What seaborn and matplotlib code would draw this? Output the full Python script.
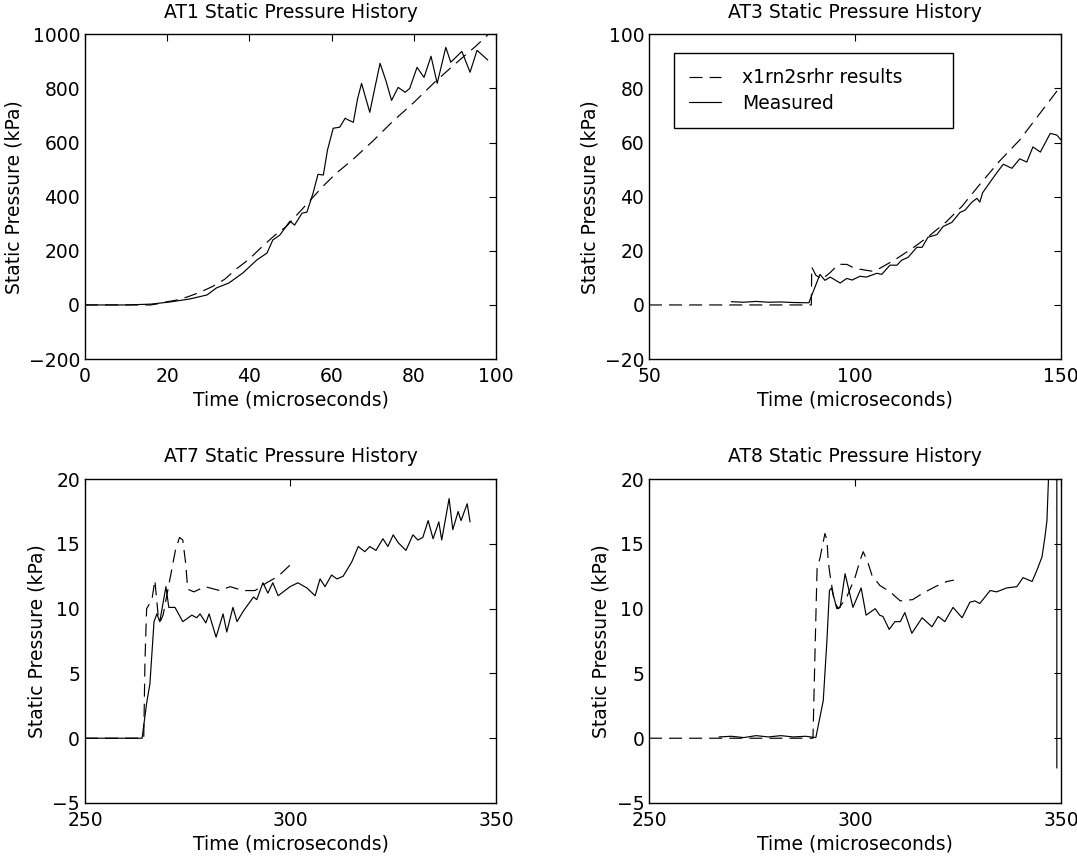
import matplotlib
matplotlib.use("Agg")
import matplotlib.pyplot as plt
import pandas as pd
import seaborn as sns

# AT1 - simulation (dashed) and measured (solid)
at1_sim_t = [0, 10, 16, 18, 20, 22, 25, 28, 31, 34, 37, 40, 43, 46, 49, 52, 55, 58, 61, 65, 70, 75, 80, 85, 90, 95, 98]
at1_sim_p = [0, 0, 0, 5, 12, 17, 30, 47, 68, 95, 135, 170, 214, 255, 290, 340, 390, 440, 485, 535, 605, 680, 748, 822, 890, 955, 998]
at1_meas_t = [0, 10, 16, 20.7, 25.5, 29.7, 32, 35, 38.4, 41.8, 44.3, 45.7, 47.4, 49.9, 51, 52.8, 54, 55.5, 56.7, 58,
              59, 60.4, 62, 63.3, 64.3, 65.3, 66.3, 67.3, 68.3, 69.3, 70.5, 71.8, 73.2, 74.6, 76.2, 77.9, 79, 80.8,
              82.5, 84.2, 85.7, 87.8, 89, 91.7, 93.7, 95.4, 97.3, 98]
at1_meas_p = [0, 0, 3, 11, 22, 37, 63, 81, 118, 166, 192, 240, 258, 310, 295, 339, 343, 413, 483, 480,
              572, 653, 657, 690, 682, 675, 760, 819, 765, 712, 800, 893, 830, 756, 804, 786, 800, 878,
              841, 919, 819, 952, 897, 937, 860, 941, 915, 905]

# AT3
at3_sim_t = [50, 70, 89.4, 89.5, 90.5, 92, 94, 96, 98, 100, 104, 106, 110, 114, 118, 122, 126, 130, 135, 140, 145, 150]
at3_sim_p = [0, 0, 0, 14, 11, 9.5, 12, 15, 15, 13.5, 12.5, 13.5, 17, 21, 25.5, 30.5, 36.5, 44, 53, 61, 71, 81]
at3_meas_t = [70, 73, 76, 79, 82, 85, 88.8, 91.5, 92.7, 94, 96.4, 98, 99.3, 101.2, 102.8, 105.3, 106.5, 108.5,
              110.2, 111.3, 112.9, 115, 116.3, 117.7, 119.9, 121.4, 123.5, 125.5, 126.7, 128.4, 129.6, 130.3,
              131, 132.8, 134.5, 136, 138.1, 140, 141.7, 143.2, 145, 147.4, 149, 150]
at3_meas_p = [1.2, 1.0, 1.3, 1.0, 1.1, 0.9, 0.8, 11.3, 9.1, 10.3, 8.1, 9.8, 9.2, 10.6, 10.3, 11.7, 11.3, 14.7,
              14.7, 16.5, 17.6, 21.3, 21.3, 25, 26, 29, 30.5, 34.2, 35, 38, 39.4, 38,
              41.5, 45.4, 49, 52, 50.5, 54, 52.8, 58.4, 56.5, 63.4, 62.8, 61]

# AT7
at7_sim_t = [250, 260, 264.3, 264.6, 265, 266.3, 267, 267.8, 268.3, 269, 270.5, 272, 273, 273.8, 274.5, 275,
             276.5, 279.2, 282.8, 285.3, 288.5, 291.4, 294.2, 297, 300]
at7_sim_p = [0, 0, 0, 6, 10, 10.7, 12.2, 9.5, 9.0, 9.5, 12, 14.5, 15.5, 15.3, 13.5, 11.5,
             11.3, 11.7, 11.4, 11.7, 11.4, 11.4, 12, 12.5, 13.4]
at7_meas_t = [250, 258, 263.9, 265, 265.8, 266.8, 267.5, 268.2, 269.7, 270.4, 271.9, 273.8, 276, 277.2, 278,
              279.4, 280.2, 281.9, 283.6, 284.5, 286, 287, 288.5, 291, 291.8, 293.3, 294.5, 295.7, 297,
              299.9, 301.8, 304, 306, 307.2, 308.4, 310, 311.3, 312.8, 314.9, 316.5, 318.1, 319.3, 320.8,
              322.5, 323.7, 325, 326.2, 328.1, 329.8, 331, 332.2, 333.5, 334.7, 336.1, 336.8, 338.6, 339.5,
              340.8, 341.5, 343, 343.7]
at7_meas_p = [0, 0, 0, 2.7, 4.2, 9, 9.6, 9, 11.7, 10.1, 10.1, 9, 9.5, 9.3, 9.6,
              8.9, 9.6, 7.8, 9.6, 8.2, 10.1, 9, 9.8, 10.9, 10.7, 12.0, 11.2, 12.0, 11.0,
              11.7, 12.0, 11.6, 11.0, 12.3, 11.7, 12.6, 12.3, 12.5, 13.6, 14.8, 14.4, 14.8, 14.5,
              15.4, 14.8, 15.7, 15.1, 14.5, 15.7, 15.3, 15.5, 16.8, 15.4, 16.7, 15.3, 18.5, 16.1,
              17.5, 16.8, 18.1, 16.7]

# AT8
at8_sim_t = [250, 270, 289.8, 290.4, 290.8, 291.5, 292.7, 293.2, 293.5, 293.9, 295, 296, 298, 300, 301.2, 302,
             303.2, 304.1, 306, 308.5, 311, 314, 316.5, 319.5, 322.3, 324]
at8_sim_p = [0, 0, 0, 8, 13.1, 13.9, 15.8, 15.3, 13.7, 12.7, 10.5, 10, 10.9, 12.4, 13.7, 14.4,
             13.5, 12.6, 11.8, 11.3, 10.6, 10.7, 11.2, 11.7, 12.1, 12.2]
at8_meas_t = [267, 270, 273, 276, 279, 282, 285, 288, 290.5, 292.3, 293.2, 293.8, 294.3, 295.6, 296.4, 297.6,
              299.5, 301.5, 302.7, 304.9, 306, 306.8, 308.3, 309.7, 311, 312.1, 313.8, 316.3, 318.7, 320.2,
              321.8, 323.8, 326, 327.9, 329.1, 330.3, 332.8, 334.4, 336.8, 339.3, 340.8, 343, 344.2, 345.4,
              346.1, 346.6, 347.2, 349, 349]
at8_meas_p = [0.1, 0.15, 0.05, 0.2, 0.1, 0.2, 0.1, 0.15, 0.05, 2.9, 7.6, 11.4, 11.6, 10, 10.1, 12.7,
              10.1, 11.6, 9.5, 10, 9.5, 9.4, 8.4, 9.0, 9.0, 9.7, 8.1, 9.3, 8.6, 9.4,
              9.0, 10.1, 9.3, 10.5, 10.6, 10.4, 11.4, 11.3, 11.6, 11.7, 12.4, 12.1, 13, 14,
              15.5, 16.8, 22, 60, -2.3]

titles = ["AT1 Static Pressure History", "AT3 Static Pressure History",
          "AT7 Static Pressure History", "AT8 Static Pressure History"]
xlims = [(0, 100), (50, 150), (250, 350), (250, 350)]
ylims = [(-200, 1000), (-20, 100), (-5, 20), (-5, 20)]
xticks = [range(0, 101, 20), [50, 100, 150], [250, 300, 350], [250, 300, 350]]
yticks = [range(-200, 1001, 200), range(-20, 101, 20), range(-5, 21, 5), range(-5, 21, 5)]

sns.set_style("white")
plt.rcParams["font.family"] = ["DejaVu Sans"]
plt.rcParams.update({
    "text.color": "black",
    "axes.labelcolor": "black",
    "axes.edgecolor": "black",
    "xtick.color": "black",
    "ytick.color": "black",
    "axes.linewidth": 1.0,
})
FS = 13.5

fig = plt.figure(figsize=(10.77, 8.59), dpi=100)
positions = [
    [0.0789, 0.582, 0.3816, 0.378],
    [0.6026, 0.582, 0.3825, 0.378],
    [0.0789, 0.0652, 0.3816, 0.377],
    [0.6026, 0.0652, 0.3825, 0.377],
]
series = [
    (at1_sim_t, at1_sim_p, at1_meas_t, at1_meas_p),
    (at3_sim_t, at3_sim_p, at3_meas_t, at3_meas_p),
    (at7_sim_t, at7_sim_p, at7_meas_t, at7_meas_p),
    (at8_sim_t, at8_sim_p, at8_meas_t, at8_meas_p),
]

for i, (st, sp, mt, mp) in enumerate(series):
    ax = fig.add_axes(positions[i])
    sim = pd.DataFrame({"t": st, "p": sp})
    meas = pd.DataFrame({"t": mt, "p": mp})
    sns.lineplot(data=sim, x="t", y="p", ax=ax, color="black", lw=0.85,
                 linestyle=(0, (11, 6)), estimator=None, sort=False, legend=False,
                 label="x1rn2srhr results")
    sns.lineplot(data=meas, x="t", y="p", ax=ax, color="black", lw=0.85,
                 estimator=None, sort=False, legend=False, label="Measured")
    if ax.get_legend() is not None:
        ax.get_legend().remove()
    ax.set_xlim(*xlims[i])
    ax.set_ylim(*ylims[i])
    ax.set_xticks(list(xticks[i]))
    ax.set_yticks(list(yticks[i]))
    ax.tick_params(direction="in", top=True, right=True, length=5, width=0.8,
                   labelsize=FS)
    ax.tick_params(axis="x", pad=6)
    ax.set_title(titles[i], fontsize=FS, pad=12)
    ax.set_xlabel("Time (microseconds)", fontsize=FS, labelpad=3)
    ax.set_ylabel("Static Pressure (kPa)", fontsize=FS)
    for s in ax.spines.values():
        s.set_visible(True)
        s.set_color("black")
    if i == 1:
        leg = ax.legend(loc="upper left", bbox_to_anchor=(0.061, 0.0, 0.677, 0.942),
                        mode="expand", borderaxespad=0, fontsize=FS, frameon=True,
                        fancybox=False, framealpha=1, edgecolor="black",
                        handlelength=1.7, handletextpad=1.1, labelspacing=0.35,
                        borderpad=0.8)
        leg.get_frame().set_linewidth(1.0)

fig.savefig("out.png", dpi=100)
